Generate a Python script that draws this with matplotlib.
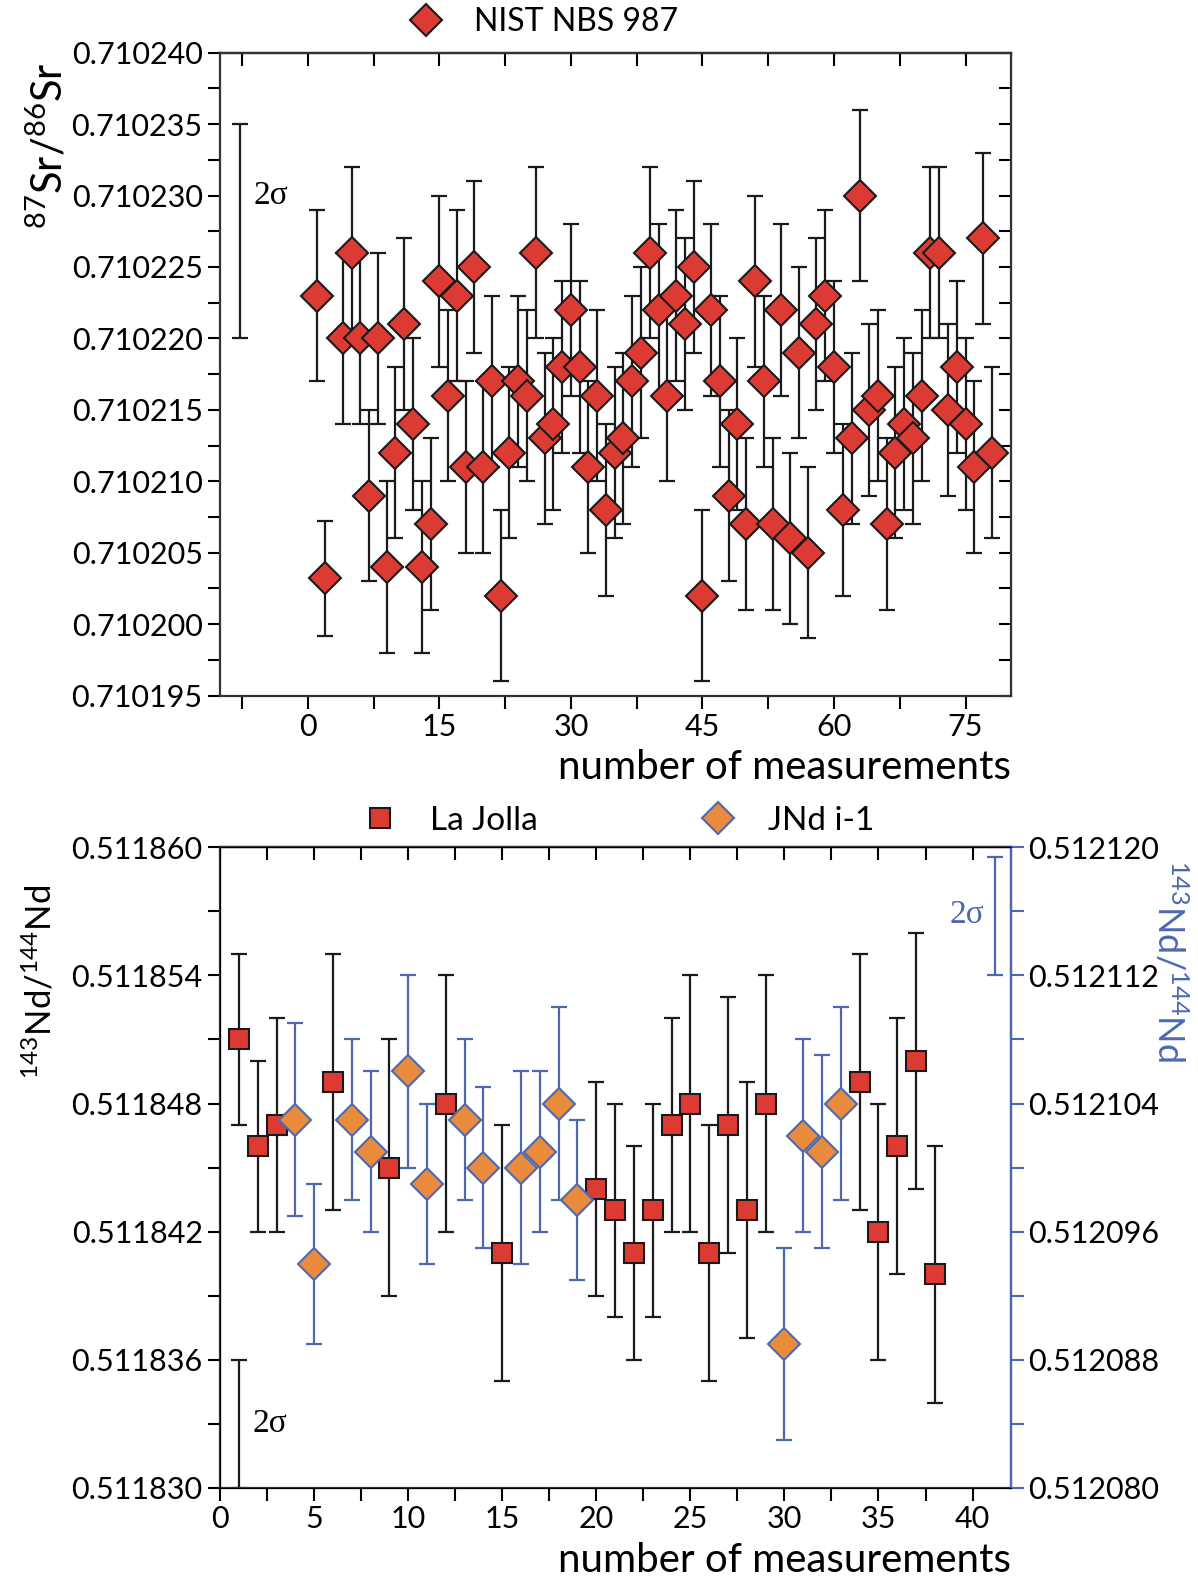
import numpy as np
import matplotlib.pyplot as plt
from matplotlib.ticker import MultipleLocator, FormatStrFormatter

plt.rcParams['font.family'] = ['Lato', 'DejaVu Sans']
plt.rcParams['mathtext.fontset'] = 'custom'
plt.rcParams['mathtext.rm'] = 'Lato'
plt.rcParams['mathtext.it'] = 'Lato'

# --- Sr standard NIST NBS 987 (no run number 3) ---
sr_n = [1, 2] + list(range(4, 79))
sr_ratio = [0.710223, 0.7102032, 0.710220, 0.710226, 0.710220, 0.710209, 0.710220, 0.710204,
            0.710212, 0.710221, 0.710214, 0.710204, 0.710207, 0.710224, 0.710216, 0.710223,
            0.710211, 0.710225, 0.710211, 0.710217, 0.710202, 0.710212, 0.710217, 0.710216,
            0.710226, 0.710213, 0.710214, 0.710218, 0.710222, 0.710218, 0.710211, 0.710216,
            0.710208, 0.710212, 0.710213, 0.710217, 0.710219, 0.710226, 0.710222, 0.710216,
            0.710223, 0.710221, 0.710225, 0.710202, 0.710222, 0.710217, 0.710209, 0.710214,
            0.710207, 0.710224, 0.710217, 0.710207, 0.710222, 0.710206, 0.710219, 0.710205,
            0.710221, 0.710223, 0.710218, 0.710208, 0.710213, 0.710230, 0.710215, 0.710216,
            0.710207, 0.710212, 0.710214, 0.710213, 0.710216, 0.710226, 0.710226, 0.710215,
            0.710218, 0.710214, 0.710211, 0.710227, 0.710212]
sr_err = [6e-6] * 77
sr_err[1] = 4e-6

# --- Nd standards ---
lj_n = [1, 2, 3, 6, 9, 12, 15, 20, 21, 22, 23, 24, 25, 26, 27, 28, 29, 34, 35, 36, 37, 38]
lj_ratio = [0.511851, 0.511846, 0.511847, 0.511849, 0.511845, 0.511848, 0.511841, 0.511844,
            0.511843, 0.511841, 0.511843, 0.511847, 0.511848, 0.511841, 0.511847, 0.511843,
            0.511848, 0.511849, 0.511842, 0.511846, 0.511850, 0.511840]
lj_err = [4e-6, 4e-6, 5e-6, 6e-6, 6e-6, 6e-6, 6e-6, 5e-6, 5e-6, 5e-6, 5e-6, 5e-6,
          6e-6, 6e-6, 6e-6, 6e-6, 6e-6, 6e-6, 6e-6, 6e-6, 6e-6, 6e-6]

jn_n = [4, 5, 7, 8, 10, 11, 13, 14, 16, 17, 18, 19, 30, 31, 32, 33]
jn_ratio = [0.512103, 0.512094, 0.512103, 0.512101, 0.512106, 0.512099, 0.512103, 0.512100,
            0.512100, 0.512101, 0.512104, 0.512098, 0.512089, 0.512102, 0.512101, 0.512104]
jn_err = [6e-6, 5e-6, 5e-6, 5e-6, 6e-6, 5e-6, 5e-6, 5e-6, 6e-6, 5e-6, 6e-6, 5e-6,
          6e-6, 6e-6, 6e-6, 6e-6]

# 2 sigma reference bars: (x, centre, half-length)
sr_sigma = (-7.7, 0.7102275, 7.5e-6)
lj_sigma = (1.0, 0.511833, 3e-6)
jn_sigma = (41.2, 0.5121157, 3.7e-6)

red = '#dc3b33'
orange = '#ea8a3c'
blue = '#4c68b0'
ink = '#1a1a1a'

fig = plt.figure(figsize=(11.98, 15.85), dpi=100)
ax1 = fig.add_axes([0.1837, 0.5611, 0.6603, 0.4057])
ax3 = fig.add_axes([0.1837, 0.0612, 0.6603, 0.4043])

tick_fs = 22
lab_fs = 29
sig_font = ['Liberation Serif', 'DejaVu Serif']

"""
Top panel: 87Sr/86Sr
"""
ax1.errorbar(sr_n, sr_ratio, yerr=sr_err, fmt='none', ecolor=ink, elinewidth=1.6,
             capsize=6, capthick=1.6, zorder=2)
ax1.plot(sr_n, sr_ratio, 'D', ms=16, mfc=red, mec=ink, mew=1.5, ls='none',
         label='NIST NBS 987', zorder=3)
ax1.errorbar(sr_sigma[0], sr_sigma[1], yerr=sr_sigma[2], fmt='none', ecolor=ink,
             elinewidth=1.6, capsize=6, capthick=1.6)
ax1.text(-6.2, 0.710230, '2σ', fontsize=24, va='center', ha='left', family=sig_font)

ax1.set_xlim(-10, 80.2)
ax1.set_ylim(0.710195, 0.710240)
ax1.xaxis.set_major_locator(MultipleLocator(15))
ax1.xaxis.set_minor_locator(MultipleLocator(7.5))
ax1.yaxis.set_major_locator(MultipleLocator(5e-6))
ax1.yaxis.set_minor_locator(MultipleLocator(2.5e-6))
ax1.yaxis.set_major_formatter(FormatStrFormatter('%.6f'))
ax1.set_ylabel(r'$^{87}$Sr/$^{86}$Sr', fontsize=30)
ax1.yaxis.set_label_coords(-0.19, 0.855)
ax1.set_xlabel('number of measurements', fontsize=lab_fs, loc='right', labelpad=6)
ax1.legend(loc='center', bbox_to_anchor=(0.40, 1.047), frameon=False, fontsize=23,
           handletextpad=0.5, borderaxespad=0)

"""
Bottom panel: 143Nd/144Nd
"""
ax4 = ax3.twinx()
ax3.errorbar(lj_n, lj_ratio, yerr=lj_err, fmt='none', ecolor=ink, elinewidth=1.6,
             capsize=6, capthick=1.6, zorder=2)
ax3.plot(lj_n, lj_ratio, 's', ms=14, mfc=red, mec=ink, mew=1.5, ls='none',
         label='La Jolla', zorder=3)
ax3.errorbar(lj_sigma[0], lj_sigma[1], yerr=lj_sigma[2], fmt='none', ecolor=ink,
             elinewidth=1.6, capsize=6, capthick=1.6)
ax3.text(1.7, 0.511833, '2σ', fontsize=24, va='center', ha='left', family=sig_font)

ax4.errorbar(jn_n, jn_ratio, yerr=jn_err, fmt='none', ecolor=blue, elinewidth=1.6,
             capsize=6, capthick=1.6, zorder=2)
ax4.plot(jn_n, jn_ratio, 'D', ms=16, mfc=orange, mec=blue, mew=1.5, ls='none',
         label='JNd i-1', zorder=3)
ax4.errorbar(jn_sigma[0], jn_sigma[1], yerr=jn_sigma[2], fmt='none', ecolor=blue,
             elinewidth=1.6, capsize=6, capthick=1.6)
ax4.text(40.6, 0.5121158, '2σ', fontsize=24, va='center', ha='right', color=blue,
         family=sig_font)

ax3.set_xlim(0, 42.05)
ax3.set_ylim(0.511830, 0.511860)
ax4.set_ylim(0.512080, 0.512120)
ax3.xaxis.set_major_locator(MultipleLocator(5))
ax3.xaxis.set_minor_locator(MultipleLocator(2.5))
ax3.yaxis.set_major_locator(MultipleLocator(6e-6))
ax3.yaxis.set_minor_locator(MultipleLocator(3e-6))
ax3.yaxis.set_major_formatter(FormatStrFormatter('%.6f'))
ax4.yaxis.set_major_locator(MultipleLocator(8e-6))
ax4.yaxis.set_minor_locator(MultipleLocator(4e-6))
ax4.yaxis.set_major_formatter(FormatStrFormatter('%.6f'))
ax3.set_ylabel(r'$^{143}$Nd/$^{144}$Nd', fontsize=25)
ax3.yaxis.set_label_coords(-0.205, 0.79)
ax4.set_ylabel(r'$^{143}$Nd/$^{144}$Nd', fontsize=26, color=blue, rotation=-90,
               va='center')
ax4.yaxis.set_label_coords(1.2, 0.822)
ax3.set_xlabel('number of measurements', fontsize=lab_fs, loc='right', labelpad=6)

h1, l1 = ax3.get_legend_handles_labels()
h2, l2 = ax4.get_legend_handles_labels()
ax3.legend(h1 + h2, l1 + l2, loc='center', bbox_to_anchor=(0.494, 1.041), ncol=2,
           frameon=False, fontsize=24, columnspacing=4.4, handletextpad=0.5, borderaxespad=0)

# Origin style ticks: out on bottom/left, in on top/right
for ax in (ax1, ax3):
    ax.tick_params(which='both', direction='out', length=9, width=1.5, labelsize=tick_fs,
                   top=False, right=False)
    for s in ax.spines.values():
        s.set_linewidth(1.6)
        s.set_color('#333333')
    sec = ax.secondary_xaxis('top')
    sec.tick_params(which='both', direction='in', length=9, width=1.5, labeltop=False)
    sec.xaxis.set_major_locator(ax.xaxis.get_major_locator())
    sec.xaxis.set_minor_locator(ax.xaxis.get_minor_locator())
    sec.spines['top'].set_linewidth(1.6)

sec_r = ax1.secondary_yaxis('right')
sec_r.tick_params(which='both', direction='in', length=9, width=1.5, labelright=False)
sec_r.yaxis.set_major_locator(MultipleLocator(5e-6))
sec_r.yaxis.set_minor_locator(MultipleLocator(2.5e-6))

ax4.tick_params(which='both', direction='out', length=9, width=1.5, labelsize=tick_fs,
                color=blue)
ax4.spines['right'].set_color(blue)
ax4.spines['right'].set_linewidth(1.6)

fig.savefig('out.png', dpi=100)
